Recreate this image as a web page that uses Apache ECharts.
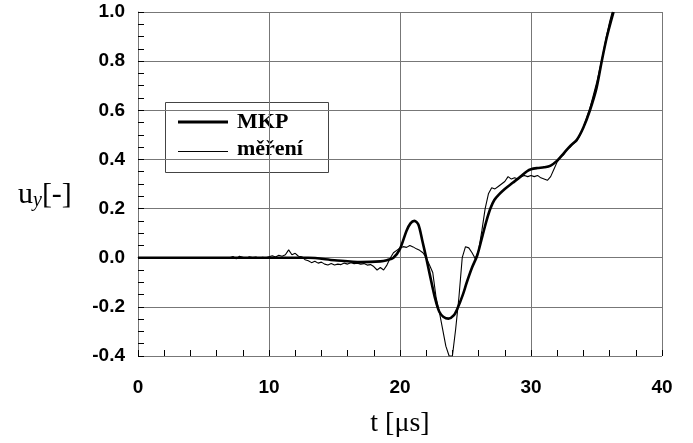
<!DOCTYPE html>
<html>
<head>
<meta charset="utf-8">
<script src="https://cdn.jsdelivr.net/npm/echarts@6/dist/echarts.min.js"></script>
<style>
  html, body { margin: 0; padding: 0; background: #fff; }
  #chart { width: 693px; height: 443px; }
</style>
</head>
<body>
<div id="chart"></div>
<script>
// axis ticks
var xTicks = [0, 10, 20, 30, 40];
var yTicks = [-0.4, -0.2, 0.0, 0.2, 0.4, 0.6, 0.8, 1.0];
var seriesNames = ['MKP', 'měření'];

// MKP (computed) - time [us] and displacement
var mkpT = [0, 13, 15, 17, 18.5, 19, 19.5, 20, 20.5, 20.8, 21.1, 21.4, 21.7, 22.0, 22.3, 22.7,
    23.0, 23.3, 23.7, 24.1, 24.4, 24.8, 25.1, 25.5, 25.9, 26.3, 26.6, 26.9, 27.2, 27.6, 28.0,
    28.6, 29.2, 29.7, 30.0, 30.5, 31.0, 31.5, 32.0, 32.5, 33.0, 33.5, 34.0, 34.5, 35.0, 35.4,
    35.8, 36.3];
var mkpU = [0, 0, -0.01, -0.018, -0.015, -0.01, 0.0, 0.036, 0.11, 0.14, 0.15, 0.135, 0.07, 0.0,
    -0.075, -0.17, -0.22, -0.24, -0.248, -0.235, -0.205, -0.15, -0.1, -0.04, 0.01, 0.09, 0.15,
    0.2, 0.235, 0.26, 0.28, 0.305, 0.33, 0.352, 0.36, 0.365, 0.368, 0.375, 0.395, 0.425, 0.455,
    0.48, 0.53, 0.6, 0.69, 0.8, 0.9, 1.0];

// měření (measured)
var merT = [7.0, 7.25, 7.5, 7.75, 8.0, 8.25, 8.5, 8.75, 9.0, 9.25, 9.5, 9.75, 10.0, 10.25, 10.5,
    10.75, 11.0, 11.25, 11.5, 11.75, 12.0, 12.25, 12.5, 12.75, 13.0, 13.25, 13.5, 13.75, 14.0,
    14.25, 14.5, 14.75, 15.0, 15.25, 15.5, 15.75, 16.0, 16.25, 16.5, 16.75, 17.0, 17.25, 17.5,
    17.75, 18.0, 18.25, 18.5, 18.75, 19.0, 19.25, 19.5, 19.75, 20.0, 20.25, 20.5, 20.75, 21.0,
    21.25, 21.5, 21.75, 22.0, 22.25, 22.5, 22.75, 23.0, 23.25, 23.5, 23.75, 24.0, 24.25, 24.5,
    24.75, 25.0, 25.25, 25.5, 25.75, 26.0, 26.25, 26.5, 26.75, 27.0, 27.25, 27.5, 27.75, 28.0,
    28.25, 28.5, 28.75, 29.0, 29.25, 29.5, 29.75, 30.0, 30.25, 30.5, 30.75, 31.0, 31.25, 31.5,
    31.75, 32.0, 32.25, 32.5, 32.75, 33.0, 33.25, 33.5, 33.75, 34.0, 34.25, 34.5, 34.75, 35.0,
    35.25, 35.5, 35.75, 36.0, 36.2];
var merU = [0.0, 0.005, -0.004, 0.006, 0.002, -0.003, 0.004, 0.001, 0.003, -0.002, 0.002, 0.0,
    0.004, 0.008, 0.003, 0.01, 0.006, 0.012, 0.032, 0.012, 0.018, 0.006, 0.004, -0.008, -0.012,
    -0.02, -0.014, -0.022, -0.018, -0.026, -0.03, -0.024, -0.03, -0.026, -0.028, -0.022, -0.026,
    -0.02, -0.024, -0.022, -0.026, -0.024, -0.03, -0.028, -0.036, -0.05, -0.04, -0.05, -0.03,
    -0.002, 0.02, 0.03, 0.04, 0.045, 0.042, 0.05, 0.044, 0.036, 0.03, 0.02, 0.0, -0.03, -0.06,
    -0.16, -0.22, -0.29, -0.36, -0.4, -0.4, -0.29, -0.16, 0.0, 0.045, 0.04, 0.02, -0.004, 0.03,
    0.11, 0.2, 0.26, 0.285, 0.28, 0.29, 0.3, 0.31, 0.33, 0.32, 0.325, 0.32, 0.33, 0.335, 0.33,
    0.335, 0.33, 0.335, 0.325, 0.32, 0.315, 0.33, 0.36, 0.39, 0.41, 0.42, 0.44, 0.45, 0.465,
    0.475, 0.5, 0.53, 0.57, 0.61, 0.66, 0.71, 0.77, 0.83, 0.9, 0.96, 1.0];

function zip(a, b) {
    var out = [];
    for (var i = 0; i < a.length; i++) out.push([a[i], b[i]]);
    return out;
}

var chart = echarts.init(document.getElementById('chart'));

var tickFont = {
    color: '#000',
    fontFamily: 'Liberation Sans',
    fontWeight: 'bold',
    fontSize: 19
};
var legendFont = { fontFamily: 'Liberation Serif', fontWeight: 'bold', fontSize: 22, fill: '#000' };

option = {
    animation: false,
    backgroundColor: '#fff',
    grid: {
        left: 138,
        right: 31,
        top: 12,
        bottom: 81
    },
    xAxis: [
        {
            type: 'value',
            min: 0,
            max: 40,
            interval: 10,
            axisLine: { show: true, lineStyle: { color: '#777', width: 1 } },
            axisTick: { show: false },
            splitLine: { show: true, lineStyle: { color: '#777', width: 1 } },
            axisLabel: Object.assign({ margin: 22, formatter: function (v) {
                return xTicks.indexOf(v) >= 0 ? String(v) : '';
            } }, tickFont),
            name: 't [μs]',
            nameLocation: 'middle',
            nameGap: 54,
            nameTextStyle: {
                color: '#000',
                fontFamily: 'Liberation Serif',
                fontSize: 28
            }
        },
        {
            // small ticks every 2 us along the bottom edge
            type: 'value',
            position: 'bottom',
            min: 0,
            max: 40,
            interval: 2,
            axisLine: { show: false },
            axisTick: { show: true, inside: true, length: 6, lineStyle: { color: '#000' } },
            splitLine: { show: false },
            axisLabel: { show: false }
        }
    ],
    yAxis: {
        type: 'value',
        min: -0.4,
        max: 1.0,
        interval: 0.2,
        axisLine: { show: true, lineStyle: { color: '#777', width: 1 } },
        axisTick: { show: true, inside: true, length: 6, lineStyle: { color: '#000' } },
        minorTick: { show: true, splitNumber: 4, length: 6, lineStyle: { color: '#000', width: 1 } },
        splitLine: { show: true, lineStyle: { color: '#777', width: 1 } },
        axisLabel: Object.assign({ margin: 13, formatter: function (v) {
            return v.toFixed(1);
        } }, tickFont)
    },
    graphic: [
        {
            type: 'text',
            left: 18,
            top: 180,
            style: {
                text: '{u|u}{y|y}{u|[-]}',
                rich: {
                    u: { fontFamily: 'Liberation Serif', fontSize: 30, fill: '#000' },
                    y: { fontFamily: 'Liberation Serif', fontStyle: 'italic', fontSize: 20,
                         fill: '#000', padding: [12, 0, 0, 0] }
                }
            }
        },
        // legend box
        {
            type: 'group',
            z: 100,
            children: [
                {
                    type: 'rect',
                    shape: { x: 165.5, y: 102.5, width: 163, height: 70 },
                    style: { fill: '#fff', stroke: '#444', lineWidth: 1 }
                },
                {
                    type: 'line',
                    shape: { x1: 178, y1: 122, x2: 228, y2: 122 },
                    style: { stroke: '#000', lineWidth: 3 }
                },
                {
                    type: 'line',
                    shape: { x1: 178, y1: 151.5, x2: 228, y2: 151.5 },
                    style: { stroke: '#000', lineWidth: 1.2 }
                },
                {
                    type: 'text',
                    x: 237, y: 122,
                    style: Object.assign({ text: seriesNames[0], verticalAlign: 'middle' }, legendFont)
                },
                {
                    type: 'text',
                    x: 237, y: 149,
                    style: Object.assign({ text: seriesNames[1], verticalAlign: 'middle' }, legendFont)
                }
            ]
        }
    ],
    series: [
        {
            name: seriesNames[0],
            type: 'line',
            data: zip(mkpT, mkpU),
            smooth: 0.3,
            symbol: 'none',
            clip: true,
            lineStyle: { color: '#000', width: 2.6 },
            z: 3
        },
        {
            name: seriesNames[1],
            type: 'line',
            data: zip(merT, merU),
            symbol: 'none',
            clip: true,
            lineStyle: { color: '#000', width: 1.1 },
            z: 4
        }
    ]
};

chart.setOption(option);
</script>
</body>
</html>
